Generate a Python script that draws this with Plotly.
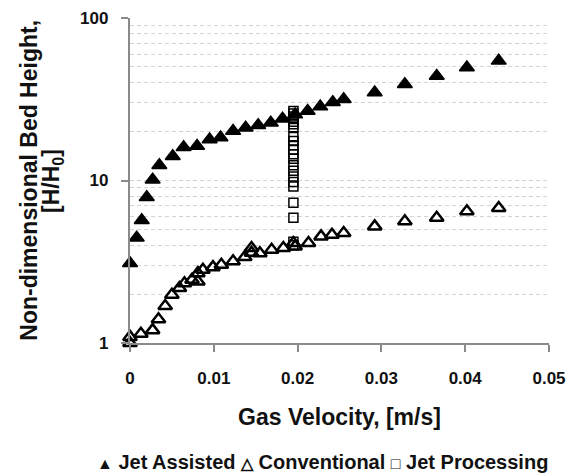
import plotly.graph_objects as go

# ---- data ----
jet_assisted_v = [0.0000, 0.0008, 0.0014, 0.0020, 0.0027, 0.0035, 0.0051, 0.0064, 0.0080,
                  0.0095, 0.0108, 0.0123, 0.0138, 0.0153, 0.0168, 0.0182, 0.0197, 0.0212,
                  0.0227, 0.0242, 0.0255, 0.0292, 0.0328, 0.0366, 0.0402, 0.0440]
jet_assisted_h = [3.1, 4.45, 5.7, 7.9, 10.1, 12.4, 14.1, 16.0, 16.3,
                  17.9, 18.4, 20.2, 21.1, 21.9, 22.7, 24.0, 25.5, 26.8,
                  28.5, 30.3, 31.6, 34.8, 39.1, 44.0, 49.6, 54.5]

conventional_v = [0.0000, 0.0000, 0.0013, 0.0027, 0.0034, 0.0042, 0.0050, 0.0059, 0.0065,
                  0.0074, 0.0081, 0.0081, 0.0087, 0.0099, 0.0109, 0.0123, 0.0137, 0.0145,
                  0.0145, 0.0155, 0.0169, 0.0183, 0.0195, 0.0197, 0.0213, 0.0228, 0.0241,
                  0.0255, 0.0292, 0.0328, 0.0366, 0.0402, 0.0440]
conventional_h = [1.0, 1.09, 1.14, 1.20, 1.40, 1.69, 1.98, 2.18, 2.33,
                  2.45, 2.39, 2.69, 2.82, 2.93, 3.03, 3.18, 3.38, 3.84,
                  3.59, 3.57, 3.75, 3.84, 4.12, 3.93, 4.12, 4.53, 4.64,
                  4.75, 5.22, 5.61, 5.89, 6.46, 6.78]

jet_processing_v = [0.0195] * 22
jet_processing_h = [26.8, 25.8, 24.8, 23.9, 23.0, 22.2, 21.3, 18.5, 17.5, 16.5, 15.5,
                    14.5, 13.6, 12.4, 11.5, 10.6, 9.8, 9.2, 7.3, 5.9, 4.2, 4.0]

x_tick_vals = [0, 0.01, 0.02, 0.03, 0.04, 0.05]
x_tick_text = ["0", "0.01", "0.02", "0.03", "0.04", "0.05"]
y_tick_vals = [1, 10, 100]
y_tick_text = ["1", "10", "100"]
y_minor_vals = [m * d for d in (1, 10) for m in range(2, 10)]

x_title = "Gas Velocity, [m/s]"
y_title_1 = "Non-dimensional Bed Height,"
y_title_2 = "[H/H<sub>0</sub>]"
legend_text = ("<span style='font-size:16px'>\u25B2</span> Jet Assisted "
               "<span style='font-size:16px'>\u25B3</span> Conventional "
               "<span style='font-size:16px'>\u25A1</span> Jet Processing")

FONT = "Liberation Sans, Arial, sans-serif"
AXIS_COLOR = "#8a8a8a"
GRID_COLOR = "#d4d4d4"
TEXT_COLOR = "#111111"

fig = go.Figure()
fig.add_trace(go.Scatter(
    x=jet_assisted_v, y=jet_assisted_h, mode="markers", name="Jet Assisted",
    marker=dict(symbol="triangle-up", size=13, color="black",
                line=dict(color="black", width=1.5)),
    cliponaxis=False, showlegend=False))
fig.add_trace(go.Scatter(
    x=conventional_v, y=conventional_h, mode="markers", name="Conventional",
    marker=dict(symbol="triangle-up-open", size=12, color="black",
                line=dict(color="black", width=2.5)),
    cliponaxis=False, showlegend=False))
fig.add_trace(go.Scatter(
    x=jet_processing_v, y=jet_processing_h, mode="markers", name="Jet Processing",
    marker=dict(symbol="square-open", size=9, color="black",
                line=dict(color="black", width=1.5)),
    cliponaxis=False, showlegend=False))

fig.update_layout(
    width=572, height=474,
    margin=dict(l=130, r=23, t=18, b=131, autoexpand=False),
    paper_bgcolor="white", plot_bgcolor="white",
    font=dict(family=FONT, color=TEXT_COLOR),
    xaxis=dict(
        range=[0, 0.05], tickmode="array", tickvals=x_tick_vals, ticktext=x_tick_text,
        showline=True, linecolor=AXIS_COLOR, linewidth=1.5,
        ticks="outside", ticklen=7, tickcolor=AXIS_COLOR, tickwidth=1.5,
        showgrid=False, zeroline=False, automargin=False,
        tickfont=dict(family=FONT, size=17, weight="bold", color=TEXT_COLOR),
        ticklabelstandoff=12,
        title=dict(text=x_title, font=dict(family=FONT, size=23, weight="bold", color=TEXT_COLOR),
                   standoff=22),
    ),
    yaxis=dict(
        type="log", range=[0, 2], tickmode="array", tickvals=y_tick_vals,
        ticktext=[t + "\u2007" for t in y_tick_text],
        showline=True, linecolor=AXIS_COLOR, linewidth=1.5,
        ticks="outside", ticklen=7, tickcolor=AXIS_COLOR, tickwidth=1.5,
        showgrid=True, gridcolor=GRID_COLOR, griddash="4px,3px", gridwidth=1,
        minor=dict(tickmode="array", tickvals=y_minor_vals, ticklen=0, showgrid=True,
                   gridcolor=GRID_COLOR, griddash="4px,3px", gridwidth=1),
        zeroline=False, automargin=False,
        tickfont=dict(family=FONT, size=17, weight="bold", color=TEXT_COLOR),
    ),
    annotations=[
        dict(text=y_title_1, xref="paper", yref="paper", x=-0.243, y=0.5,
             xanchor="center", yanchor="middle", textangle=-90, showarrow=False,
             font=dict(family=FONT, size=23, weight="bold", color=TEXT_COLOR)),
        dict(text=y_title_2, xref="paper", yref="paper", x=-0.185, y=0.5,
             xanchor="center", yanchor="middle", textangle=-90, showarrow=False,
             font=dict(family=FONT, size=23, weight="bold", color=TEXT_COLOR)),
        dict(text=legend_text, xref="paper", yref="paper", x=0.46, y=-0.366,
             xanchor="center", yanchor="middle", showarrow=False,
             font=dict(family=FONT, size=20, weight="bold", color=TEXT_COLOR)),
    ],
)

fig.write_html("out.html",
               config={"displayModeBar": False},
               post_script="document.body.style.margin='0';document.body.style.overflow='hidden';")
